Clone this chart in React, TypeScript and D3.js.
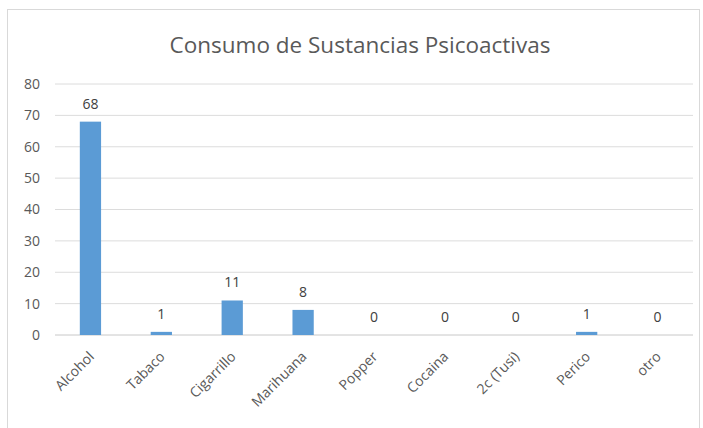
import React from "react";
import * as d3 from "d3";

const categories = ["Alcohol", "Tabaco", "Cigarrillo", "Marihuana", "Popper", "Cocaina", "2c (Tusi)", "Perico", "otro"];
const values = [68, 1, 11, 8, 0, 0, 0, 1, 0];
const yTicks = [0, 10, 20, 30, 40, 50, 60, 70, 80];
const title = "Consumo de Sustancias Psicoactivas";

const W = 703;
const H = 428;
const left = 55;
const right = 693;
const top = 84;
const bottom = 335;
const font = "'Open Sans', sans-serif";
const textColor = "#595959";

export default function App() {
  const x = d3.scaleBand<string>().domain(categories).range([left, right]).paddingInner(0.7).paddingOuter(0.35);
  const y = d3.scaleLinear().domain([0, 80]).range([bottom, top]);
  return (
    <svg width={W} height={H} style={{ position: "absolute", left: 0, top: 0, background: "#fff" }}>
      <rect x={7.5} y={9.5} width={692} height={430} fill="#fff" stroke="#d9d9d9" />
      <text x={360} y={53} textAnchor="middle" fontFamily={font} fontSize={22.5} fill={textColor}>
        {title}
      </text>
      {yTicks.map((t) => (
        <g key={t}>
          <line x1={left} x2={right} y1={y(t)} y2={y(t)} stroke={t === 0 ? "#c8c8c8" : "#dcdcdc"} strokeWidth={1} />
          <text x={40} y={y(t)} dy="0.35em" textAnchor="end" fontFamily={font} fontSize={14} fill={textColor}>
            {t}
          </text>
        </g>
      ))}
      {categories.map((c, i) => {
        const cx = (x(c) as number) + x.bandwidth() / 2;
        return (
          <g key={c}>
            <rect x={x(c)} y={y(values[i])} width={x.bandwidth()} height={y(0) - y(values[i])} fill="#5B9BD5" />
            <text x={cx} y={y(values[i]) - 13} textAnchor="middle" fontFamily={font} fontSize={14} fill="#404040">
              {values[i]}
            </text>
            <text
              transform={`translate(${cx + 1},${bottom + 19}) rotate(-45)`}
              textAnchor="end"
              dy="0.35em"
              fontFamily={font}
              fontSize={14}
              fill={textColor}
            >
              {c}
            </text>
          </g>
        );
      })}
    </svg>
  );
}
